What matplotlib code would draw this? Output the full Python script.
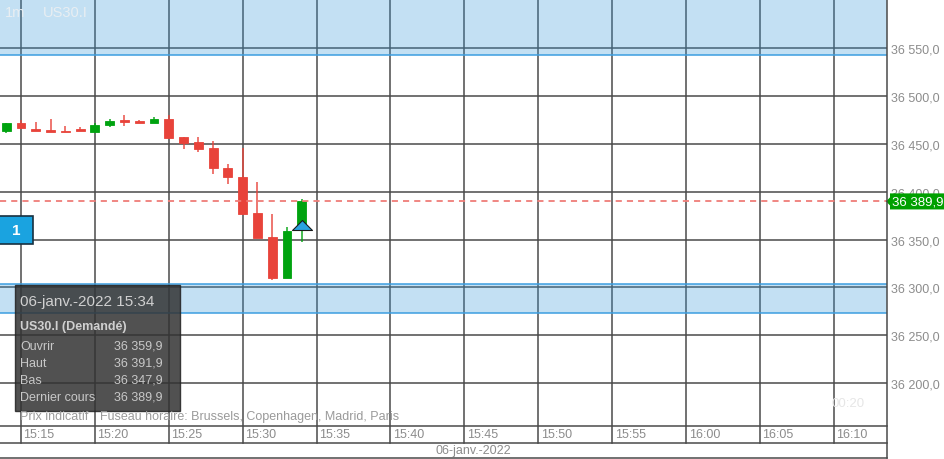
import matplotlib
matplotlib.use('Agg')
import matplotlib.pyplot as plt
from matplotlib.patches import Rectangle, Polygon
from matplotlib.path import Path
from matplotlib.transforms import blended_transform_factory
from matplotlib.ticker import FuncFormatter

plt.rcParams['font.family'] = ['Liberation Sans', 'DejaVu Sans']

# 1 minute candles, US30.I
times = ['15:14', '15:15', '15:16', '15:17', '15:18', '15:19', '15:20', '15:21', '15:22', '15:23', '15:24',
         '15:25', '15:26', '15:27', '15:28', '15:29', '15:30', '15:31', '15:32', '15:33', '15:34']
opens = [36464.0, 36472.0, 36466.0, 36465.0, 36464.0, 36465.0, 36462.5, 36469.5, 36475.5, 36474.0, 36471.6,
         36476.5, 36456.8, 36452.0, 36446.0, 36425.3, 36415.8, 36377.6, 36352.6, 36309.9, 36359.9]
highs = [36472.0, 36475.0, 36473.0, 36476.0, 36469.0, 36468.0, 36472.0, 36476.5, 36480.7, 36475.5, 36478.3,
         36480.7, 36456.8, 36457.3, 36453.0, 36429.2, 36446.0, 36409.9, 36376.5, 36363.6, 36391.9]
lows = [36461.0, 36466.0, 36464.0, 36462.0, 36462.0, 36463.5, 36462.0, 36467.5, 36469.0, 36472.0, 36471.6,
        36456.0, 36445.0, 36442.0, 36419.0, 36408.4, 36375.5, 36352.0, 36307.4, 36309.9, 36347.9]
closes = [36472.0, 36467.0, 36464.0, 36462.5, 36462.0, 36463.5, 36469.5, 36473.7, 36472.6, 36472.0, 36476.5,
          36456.2, 36450.5, 36445.0, 36424.6, 36415.2, 36376.8, 36352.0, 36309.9, 36359.0, 36389.9]

symbol = 'US30.I'
timeframe = '1m'
date_label = '06-janv.-2022'
x_ticks = ['15:15', '15:20', '15:25', '15:30', '15:35', '15:40', '15:45', '15:50', '15:55',
           '16:00', '16:05', '16:10']
y_ticks = [36200, 36250, 36300, 36350, 36400, 36450, 36500, 36550]
zone_top = 36543.2
zone_low = (36273.7, 36303.6)
position_count = '1'
countdown = '00:20'
tooltip_rows = ['Ouvrir', 'Haut', 'Bas', 'Dernier cours']


def mins(t):
    h, m = t.split(':')
    return int(h) * 60 + int(m) - (15 * 60 + 15)


def fmt(v, pos=None):
    return f'{v:,.1f}'.replace(',', ' ').replace('.', ',')


red = '#e8433a'
green = '#00a30f'
gc = '#4a4a4a'
lbl = '#8c8c8c'
px = 14.78

fig = plt.figure(figsize=(9.45, 4.6), dpi=100)
ax = fig.add_axes([0, 33 / 460, 887 / 945, 427 / 460])
ax.set_xlim(-21 / px, 866 / px)
ax.set_ylim(36155.0, 36601.6)
for s in ax.spines.values():
    s.set_visible(False)

for v in y_ticks:
    ax.axhline(v, color=gc, lw=1.1, zorder=1)
for t in x_ticks:
    ax.plot([mins(t), mins(t)], [-17 / 427, 1], transform=ax.get_xaxis_transform(), color=gc, lw=1.1,
            clip_on=False, zorder=1)
    ax.text(mins(t) + 2.5 / px, -8.5 / 427, t, transform=ax.get_xaxis_transform(), color=lbl,
            fontsize=9, va='center', ha='left')

ax.axhspan(zone_top, 36700, color='#3a9ad9', alpha=0.3, lw=0, zorder=2)
ax.axhline(zone_top, color='#3c9ee0', lw=1.1, zorder=2)
ax.axhspan(zone_low[0], zone_low[1], color='#3a9ad9', alpha=0.3, lw=0, zorder=2)
ax.axhline(zone_low[0], color='#3c9ee0', lw=1.1, zorder=2)
ax.axhline(zone_low[1], color='#3c9ee0', lw=1.1, zorder=2)

for i, t in enumerate(times):
    x = mins(t)
    o, c = opens[i], closes[i]
    col = green if c >= o else red
    ax.vlines(x, lows[i], highs[i], color=col, lw=1.2, alpha=0.85, zorder=3)
    ax.add_patch(Rectangle((x - 0.3, min(o, c)), 0.6, max(abs(c - o), 2.0), fc=col, ec=col,
                           lw=0.6, zorder=4))

ax.axhline(closes[-1], color='#ef7d78', lw=1.3, dashes=(3.4, 2.8), zorder=5)

tri = Path([(-1, 0), (1, 0), (0, 1), (-1, 0)], closed=True)
ax.plot(mins(times[-1]), opens[-1], marker=tri, ms=14.4, mfc='#2aa3e0', mec='#1a1a1a', mew=0.8,
        ls='none', zorder=6)

bt = blended_transform_factory(ax.transAxes, ax.transData)
ax.add_patch(Rectangle((-3 / 887, opens[-1] - 14.6), 36 / 887, 29.3, transform=bt, fc='#1aa3e0',
                       ec='#183040', lw=1.2, clip_on=False, zorder=7))
ax.text(16.5 / 887, opens[-1], position_count, transform=bt, color='white', fontsize=11,
        fontweight='bold', ha='center', va='center', zorder=8)

# last price tag on the axis
c = closes[-1]
ax.add_patch(Polygon([(886 / 887, c), (890 / 887, c + 4.2), (890 / 887, c + 8.4), (945 / 887, c + 8.4),
                      (945 / 887, c - 8.4), (890 / 887, c - 8.4), (890 / 887, c - 4.2)],
                     closed=True, transform=bt, fc='#00a000', ec='none', clip_on=False, zorder=9))
ax.text(892 / 887, c, fmt(c), transform=bt, color='white', fontsize=9.5, va='center', ha='left',
        clip_on=False, zorder=10)

ax.yaxis.tick_right()
ax.set_yticks(y_ticks)
ax.yaxis.set_major_formatter(FuncFormatter(fmt))
ax.tick_params(axis='y', length=0, pad=3, labelsize=9, labelcolor=lbl)
ax.set_xticks([])

ov = fig.add_axes([0, 0, 1, 1], zorder=10)
ov.set_xlim(0, 945)
ov.set_ylim(460, 0)
ov.axis('off')
for yy in [427, 444, 459]:
    ov.plot([0, 887], [yy, yy], color=gc, lw=1.1)
ov.plot([887, 887], [0, 459], color=gc, lw=1.1)

ov.text(5, 13, timeframe, color='#e8eef2', fontsize=10.5, va='center')
ov.text(43, 13, symbol, color='#e8eef2', fontsize=10.5, va='center')
ov.text(832, 404, countdown, color='#e6e6e6', fontsize=9.5, va='center')

ov.text(20, 417, 'Prix indicatif', color='#9a9a9a', fontsize=9, va='center')
ov.text(100, 417, 'Fuseau horaire: Brussels, Copenhagen, Madrid, Paris', color='#9a9a9a', fontsize=9,
        va='center')
ov.text(473, 451.5, date_label, color=lbl, fontsize=9, va='center', ha='center')

ov.add_patch(Rectangle((15, 286), 165, 126, fc='#333333', alpha=0.85, ec='#222222', lw=1))
ov.text(20, 302, date_label + ' ' + times[-1], color='#d0d0d0', fontsize=11, va='center')
ov.text(20, 327, symbol + ' (Demandé)', color='#d0d0d0', fontsize=9, fontweight='bold', va='center')
vals = [opens[-1], highs[-1], lows[-1], closes[-1]]
for k, (name, v) in enumerate(zip(tooltip_rows, vals)):
    yy = 347 + k * 17
    ov.text(20, yy, name, color='#c8c8c8', fontsize=9, va='center')
    ov.text(163, yy, fmt(v), color='#c8c8c8', fontsize=9, va='center', ha='right')

fig.savefig('out.png', dpi=100)
